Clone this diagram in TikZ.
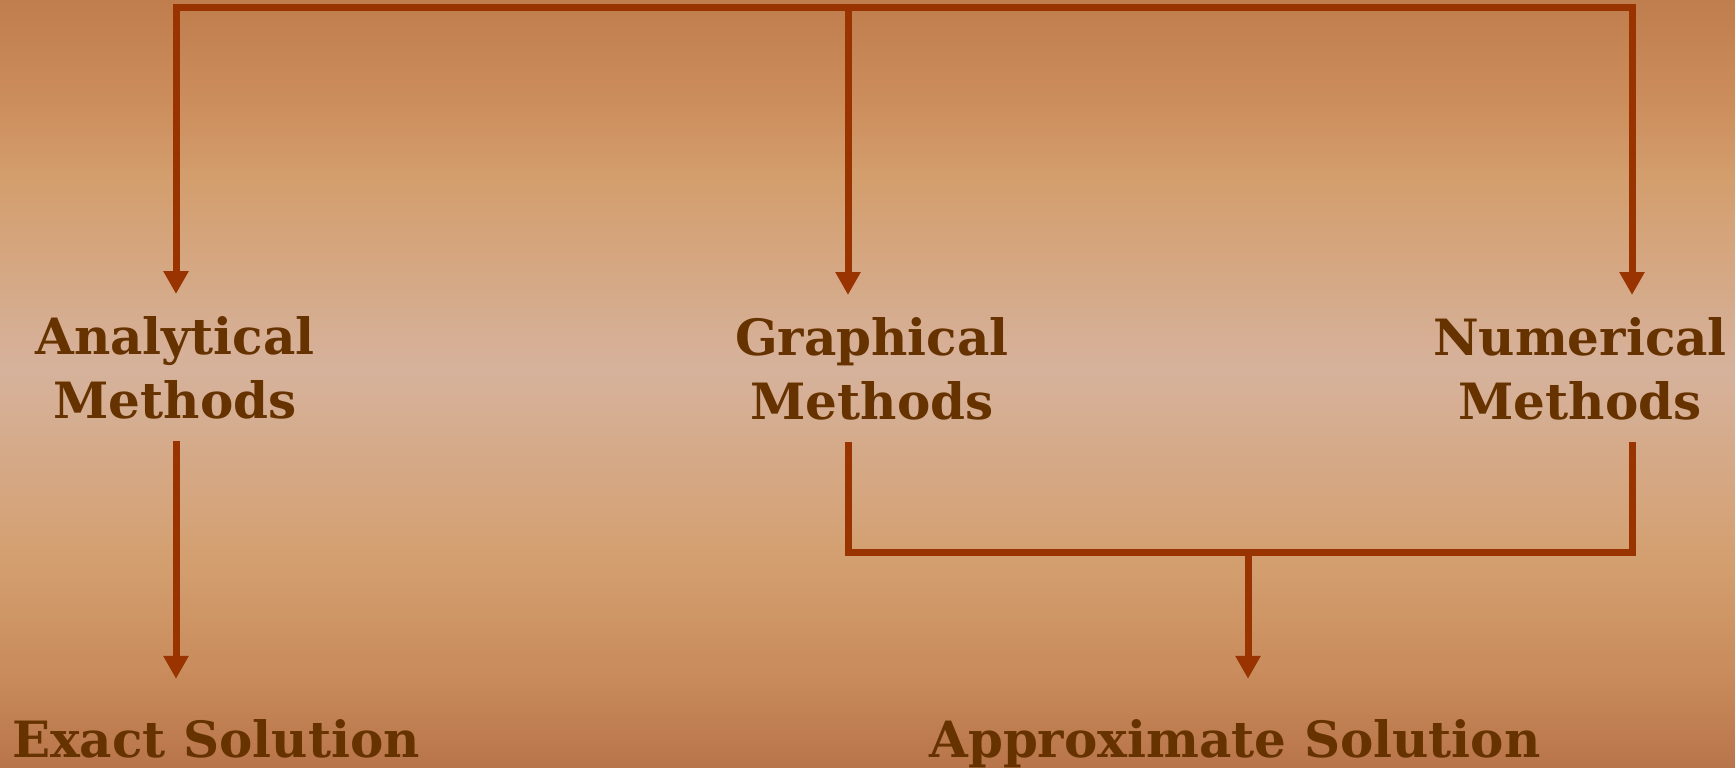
\documentclass[tikz,border=0pt]{standalone}
\usepackage{fontspec}
\setmainfont{DejaVu Serif}
\usetikzlibrary{arrows.meta}
\definecolor{txt}{HTML}{663300}
\definecolor{ln}{HTML}{993300}
\definecolor{c0}{HTML}{B8744A}
\definecolor{c1}{HTML}{C88A5A}
\definecolor{c2}{HTML}{D49F6F}
\definecolor{c3}{HTML}{D6B29C}
\definecolor{c4}{HTML}{D49E6D}
\definecolor{c5}{HTML}{CC8D5C}
\definecolor{c6}{HTML}{C07D4D}
\pgfdeclareverticalshading{bgshade}{100bp}{color(0bp)=(c0); color(25bp)=(c0); color(30.7bp)=(c1); color(38.5bp)=(c2); color(50.9bp)=(c3); color(63.3bp)=(c4); color(68.5bp)=(c5); color(75bp)=(c6); color(100bp)=(c6)}
\begin{document}
\begin{tikzpicture}[x=1pt,y=-1pt,
  lbl/.style={text=txt, font=\bfseries\fontsize{50}{64}\selectfont, align=center, inner xsep=0pt},
  bus/.style={draw=ln, line width=7pt, line cap=rect, line join=miter},
  busb/.style={draw=ln, line width=7pt, line cap=butt, line join=miter},
  arr/.style={draw=ln, line width=7pt, -{Triangle[length=23pt,width=24pt]}}]
\useasboundingbox (0,0) rectangle (1735,768);
\shade[shading=bgshade] (0,0) rectangle (1735,768);
\node[lbl, anchor=north, inner ysep=22pt] (A) at (175,294) {Analytical\\Methods};
\node[lbl, anchor=north, inner ysep=22pt] (G) at (872,295) {Graphical\\Methods};
\node[lbl, anchor=north, inner ysep=22pt] (N) at (1580,295) {Numerical\\Methods};
\node[lbl, anchor=base, inner ysep=40pt] (E) at (216,757) {Exact Solution};
\node[lbl, anchor=base, inner ysep=40pt] (X) at (1235,757) {Approximate Solution};
\coordinate (tA) at (176,8);
\coordinate (tG) at (848,8);
\coordinate (tN) at (1632,8);
\coordinate (bG) at (848,552);
\coordinate (bN) at (1632,552);
\coordinate (bX) at (1248,552);
\draw[bus] (tA) -- (tN);
\draw[arr] (tA) -- (tA |- A.north);
\draw[arr] (tG) -- (tG |- G.north);
\draw[arr] (tN) -- (tN |- N.north);
\draw[arr] (tA |- A.south) -- (tA |- E.north);
\draw[busb] (tG |- G.south) -- (bG) -- (bN) -- (tN |- N.south);
\draw[arr] (bX) -- (bX |- X.north);
\end{tikzpicture}
\end{document}
